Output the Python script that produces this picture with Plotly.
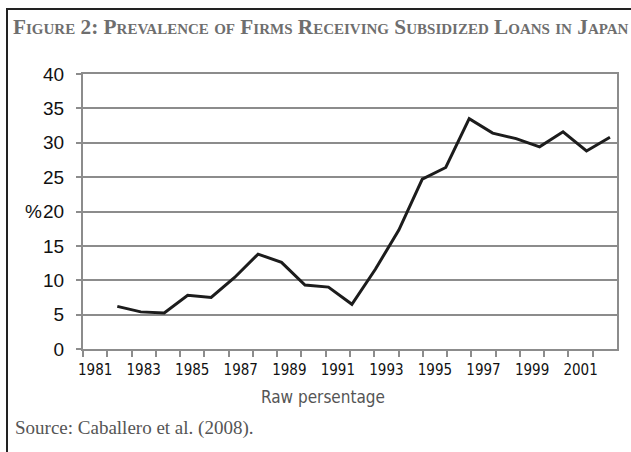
import plotly.graph_objects as go

# ---- data ----
years = list(range(1981, 2003))
raw_pct = [6.2, 5.4, 5.25, 7.8, 7.5, 10.4, 13.8, 12.6, 9.3, 9.0, 6.5,
           11.6, 17.3, 24.7, 26.4, 33.5, 31.4, 30.6, 29.4, 31.6, 28.8, 30.8]
axis_years = list(range(1981, 2003))
label_years = list(range(1981, 2002, 2))
y_ticks = [0, 5, 10, 15, 20, 25, 30, 35, 40]

W, H = 631, 452
L, R, T, B = 83, 14, 74, 103
pw = W - L - R

def px(x):
    return x / W

def py(y):
    return 1 - y / H

GRID = "#8c8c8c"
SANS = "Liberation Sans, Arial, sans-serif"
NARROW = "Liberation Sans Narrow, Arial Narrow, DejaVu Sans Condensed, sans-serif"
SERIF = "Liberation Serif, Times New Roman, serif"

lo, hi = axis_years[0] - 0.5, axis_years[-1] + 0.5
step = 23.46  # spacing of the line's points in the picture
x_lo = years[0] - (117.3 - L) / step
x_hi = x_lo + pw / step

XDOM = [L / W, (W - R) / W]
YDOM = [B / H, (H - T) / H]

fig = go.Figure()
fig.add_trace(go.Scatter(
    x=years, y=raw_pct, mode="lines", xaxis="x", yaxis="y",
    line=dict(color="#1c1c1c", width=3), showlegend=False, hoverinfo="skip"))
fig.add_trace(go.Scatter(x=[axis_years[0]], y=[None], xaxis="x2", yaxis="y",
                         mode="lines", showlegend=False, hoverinfo="skip"))
fig.add_trace(go.Scatter(x=[label_years[0]], y=[None], xaxis="x3", yaxis="y",
                         mode="lines", showlegend=False, hoverinfo="skip"))

FRAME = dict(color="#222", width=2)

# frame drawn as short contiguous segments
frame = []
for y0 in range(8, 452, 90):
    frame.append(dict(type="line", xref="paper", yref="paper",
                      x0=px(7), x1=px(7), y0=py(y0), y1=py(min(y0 + 90, 452)),
                      line=FRAME))
for x0 in range(6, 631, 90):
    frame.append(dict(type="line", xref="paper", yref="paper",
                      x0=px(x0), x1=px(min(x0 + 90, 631)), y0=py(9), y1=py(9),
                      line=FRAME))

fig.update_layout(
    width=W, height=H,
    margin=dict(l=0, r=0, t=0, b=0, pad=0, autoexpand=False),
    paper_bgcolor="white", plot_bgcolor="white",
    xaxis=dict(domain=XDOM, range=[x_lo, x_hi], showticklabels=False, ticks="",
               showgrid=False, zeroline=False, showline=True, linecolor=GRID,
               linewidth=2, mirror=True),
    xaxis2=dict(range=[lo, hi], overlaying="x", anchor="y", side="bottom",
                tickvals=[v - 0.5 for v in axis_years],
                showticklabels=False, ticks="outside", ticklen=7,
                tickcolor=GRID, tickwidth=1.5, showgrid=False, zeroline=False,
                showline=False),
    xaxis3=dict(range=[lo, hi], overlaying="x", anchor="y", side="bottom",
                tickvals=label_years, ticktext=[str(v) for v in label_years],
                ticks="", showgrid=False, zeroline=False, showline=False,
                ticklabelstandoff=10,
                tickfont=dict(family=NARROW, size=15, color="#111")),
    yaxis=dict(domain=YDOM, range=[0, 40], tickvals=y_ticks, ticks="outside",
               ticklen=5, tickcolor=GRID, tickwidth=1.5, showgrid=True,
               gridcolor=GRID, gridwidth=1.5, zeroline=False, showline=True,
               linecolor=GRID, linewidth=2, mirror=True, ticklabelstandoff=8,
               tickfont=dict(family=SANS, size=19, color="#111")),
    shapes=frame,
    annotations=[
        dict(text="%", xref="paper", yref="y", x=px(44), y=20, xanchor="right",
             yanchor="middle", showarrow=False,
             font=dict(family=SANS, size=19, color="#111")),
        dict(text="Raw persentage", xref="paper", yref="paper", x=px(323),
             y=py(397), xanchor="center", yanchor="middle", showarrow=False,
             font=dict(family=NARROW, size=17, color="#555")),
        dict(text="Source: Caballero et al. (2008).", xref="paper", yref="paper",
             x=px(13), y=py(428), xanchor="left", yanchor="middle", showarrow=False,
             font=dict(family=SERIF, size=19, color="#555")),
        dict(text="<b>Figure 2: Prevalence of Firms Receiving Subsidized Loans in Japan</b>",
             xref="paper", yref="paper", x=px(11), y=py(27), xanchor="left",
             yanchor="middle", showarrow=False,
             font=dict(family=SERIF, size=21.3, color="#6e6e6e", variant="small-caps")),
    ],
)

fig.write_html("out.html", config={"displayModeBar": False},
               post_script="document.body.style.margin='0';document.body.style.overflow='hidden';")
